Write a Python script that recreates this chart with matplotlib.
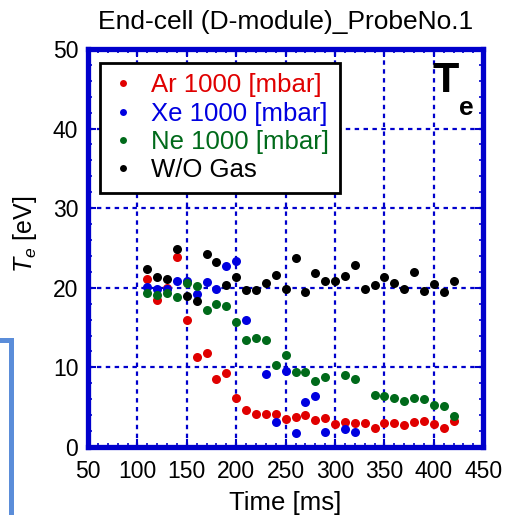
import matplotlib
matplotlib.use("Agg")
import matplotlib.pyplot as plt
from matplotlib.lines import Line2D
from matplotlib.ticker import MultipleLocator

plt.rcParams['font.family'] = ['Liberation Sans', 'DejaVu Sans']
plt.rcParams['mathtext.fontset'] = 'custom'
plt.rcParams['mathtext.it'] = 'Liberation Sans:italic'
plt.rcParams['mathtext.rm'] = 'Liberation Sans'

# Time [ms] and Te [eV]
t_ar = [110, 120, 130, 140, 150, 160, 170, 180, 190, 200, 210, 220, 230, 240, 250, 260,
        270, 280, 290, 300, 310, 320, 330, 340, 350, 360, 370, 380, 390, 400, 410, 420]
te_ar = [21.1, 18.5, 20.0, 23.9, 15.9, 11.3, 11.8, 8.5, 9.3, 6.1, 4.7, 4.2, 4.2, 4.2, 3.5, 3.8,
         4.0, 3.4, 3.6, 2.9, 3.1, 3.0, 3.0, 2.4, 3.0, 3.0, 2.8, 3.2, 3.3, 2.9, 2.4, 3.3]

t_xe = [110, 120, 130, 140, 150, 160, 170, 180, 190, 200, 210, 230, 240, 250, 260, 270,
        280, 290, 310, 320]
te_xe = [20.1, 19.9, 19.9, 20.9, 20.9, 19.2, 20.7, 19.8, 22.7, 23.4, 16.0, 9.2, 3.2, 9.5, 1.8, 5.6,
         6.4, 1.9, 2.3, 1.9]

t_ne = [110, 120, 130, 140, 150, 160, 170, 180, 190, 200, 210, 220, 230, 240, 250, 260,
        270, 280, 290, 310, 320, 340, 350, 360, 370, 380, 390, 400, 410, 420]
te_ne = [19.4, 19.1, 19.4, 18.9, 20.6, 20.2, 17.2, 18.0, 17.7, 15.7, 13.4, 13.7, 13.4, 10.3, 11.5, 9.4,
         9.4, 8.3, 8.8, 9.0, 8.5, 6.5, 6.4, 6.2, 5.8, 6.1, 6.0, 5.3, 5.2, 3.9]

t_wo = [110, 120, 130, 140, 150, 160, 170, 180, 190, 200, 210, 220, 230, 240, 250, 260,
        270, 280, 290, 300, 310, 320, 330, 340, 350, 360, 370, 380, 390, 400, 410, 420]
te_wo = [22.3, 21.4, 21.1, 24.9, 19.0, 18.3, 24.2, 23.3, 20.3, 21.4, 19.7, 19.7, 20.6, 21.6, 19.9, 23.7,
         19.5, 21.8, 20.9, 20.9, 21.5, 22.8, 19.8, 20.4, 21.3, 20.6, 19.9, 22.0, 19.6, 20.5, 19.5, 20.9]

series = [
    (t_ar, te_ar, "#e00000", "Ar 1000 [mbar]"),
    (t_xe, te_xe, "#0000e0", "Xe 1000 [mbar]"),
    (t_ne, te_ne, "#006a1a", "Ne 1000 [mbar]"),
    (t_wo, te_wo, "#000000", "W/O Gas"),
]

blue = "#0000cc"

fig = plt.figure(figsize=(5.06, 5.15), dpi=100)
ax = fig.add_axes([0.174, 0.132, 0.781, 0.773])

for tt, vv, col, lab in series:
    ax.plot(tt, vv, "o", color=col, markersize=6.5, markeredgewidth=0, label=lab, zorder=3)

ax.set_xlim(50, 450)
ax.set_ylim(0, 50)
ax.xaxis.set_major_locator(MultipleLocator(50))
ax.xaxis.set_minor_locator(MultipleLocator(10))
ax.yaxis.set_major_locator(MultipleLocator(10))
ax.yaxis.set_minor_locator(MultipleLocator(2))
ax.tick_params(which="both", direction="in", top=True, right=True, color=blue,
               labelsize=16.5)
ax.tick_params(axis="x", pad=9)
ax.tick_params(axis="y", pad=7)
ax.tick_params(which="major", length=6, width=1.5)
ax.tick_params(which="minor", length=3, width=1.2)
for sp in ax.spines.values():
    sp.set_color(blue)
    sp.set_linewidth(3.8)
ax.grid(True, which="major", color=blue, linestyle=(0, (2, 2)), linewidth=1.6)
ax.set_axisbelow(True)

ax.set_title("End-cell (D-module)_ProbeNo.1", fontsize=19, pad=14)
ax.set_xlabel("Time [ms]", fontsize=18.5)
ax.set_ylabel(r"$\mathit{T}_{e}$ [eV]", fontsize=18)
ax.xaxis.set_label_coords(0.5, -0.11)
ax.yaxis.set_label_coords(-0.125, 0.533)

ax.text(0.904, 0.92, "T", transform=ax.transAxes, fontsize=31, fontweight="bold",
        ha="center", va="center")
ax.text(0.957, 0.852, "e", transform=ax.transAxes, fontsize=19, fontweight="bold",
        ha="center", va="center")

handles = [Line2D([], [], marker="o", linestyle="", color=c, markersize=5,
                  markeredgewidth=0) for _, _, c, _ in series]
leg = ax.legend(handles, [s[3] for s in series], loc="upper left",
                bbox_to_anchor=(0.03, 0.965), fontsize=18.5, frameon=True,
                fancybox=False, edgecolor="black", framealpha=1,
                handlelength=1.0, handletextpad=0.6, borderpad=0.4,
                labelspacing=0.17, borderaxespad=0)
leg.get_frame().set_linewidth(2)
for txt, (_, _, c, _) in zip(leg.get_texts(), series):
    txt.set_color(c)

# light blue bracket at the lower left edge
fig.add_artist(Line2D([0, 11.5 / 506, 11.5 / 506], [1 - 340 / 515, 1 - 340 / 515, 0],
                      transform=fig.transFigure, color="#5b8dd9", linewidth=3.6,
                      solid_joinstyle="miter"))

fig.savefig("out.png", dpi=100)
